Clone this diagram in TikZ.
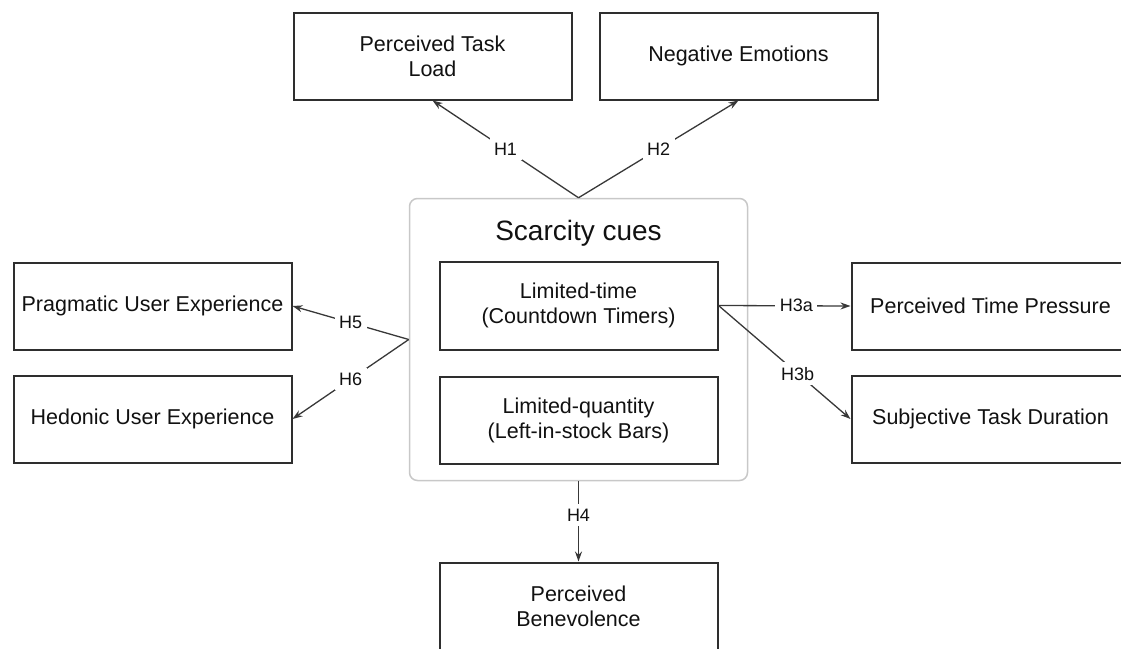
\documentclass[tikz,border=0pt]{standalone}
\usepackage{fontspec}
\setmainfont{Liberation Sans}
\usetikzlibrary{arrows.meta}
\definecolor{boxc}{HTML}{2E2E2E}
\definecolor{linec}{HTML}{383838}
\definecolor{outerc}{HTML}{C8C8C8}
\definecolor{txt}{HTML}{111111}
\begin{document}
\begin{tikzpicture}[x=1pt,y=-1pt,
  box/.style={draw=boxc, line width=2pt, minimum width=278pt, minimum height=87pt,
    align=center, font=\fontsize{21.5}{25}\selectfont, text=txt, inner sep=0pt},
  outerbox/.style={draw=outerc, line width=1.5pt, rounded corners=8pt,
    minimum width=338pt, minimum height=282pt, inner sep=0pt},
  conn/.style={draw=linec, line width=1.3pt, -{Stealth[length=10pt,width=7pt]}},
  lab/.style={fill=white, text=txt, font=\fontsize{18}{20}\selectfont, inner sep=4.5pt}]
\clip (0,0) rectangle (1121,648);
\useasboundingbox (0,0) rectangle (1121,648);

% outer scarcity group
\node[outerbox] (scar) at (578.5,339.5) {};
\node[text=txt, font=\fontsize{28}{32}\selectfont, anchor=base] (title) at (578.5,240) {Scarcity cues};
\node[box, minimum height=88pt] (lt) at (578.5,305.5) {Limited-time\\(Countdown Timers)};
\node[box] (lq) at (578.5,420) {Limited-quantity\\(Left-in-stock Bars)};

% outcome boxes
\node[box] (ptl) at (432.5,56) {Perceived Task\\Load};
\node[box] (ne) at (738.5,56) {Negative Emotions};
\node[box] (prag) at (152.5,306) {Pragmatic User Experience};
\node[box] (hed) at (152.5,419) {Hedonic User Experience};
\node[box] (ptp) at (990.5,306) {Perceived Time Pressure};
\node[box] (std) at (990.5,419) {Subjective Task Duration};
\node[box] (ben) at (578.5,606) {Perceived\\Benevolence};

% connectors
\draw[conn] (scar.north) -- node[lab]{H1} (ptl.south);
\draw[conn] (scar.north) -- node[lab]{H2} (ne.south);
\draw[conn] (scar.west) -- node[lab]{H5} (prag.east);
\draw[conn] (scar.west) -- node[lab]{H6} (hed.east);
\draw[conn] (lt.east) -- node[lab, pos=0.59]{H3a} (ptp.west);
\draw[conn] (lt.east) -- node[lab, pos=0.6]{H3b} (std.west);
\draw[conn] (scar.south) -- node[lab, pos=0.42]{H4} (ben.north);
\end{tikzpicture}
\end{document}
